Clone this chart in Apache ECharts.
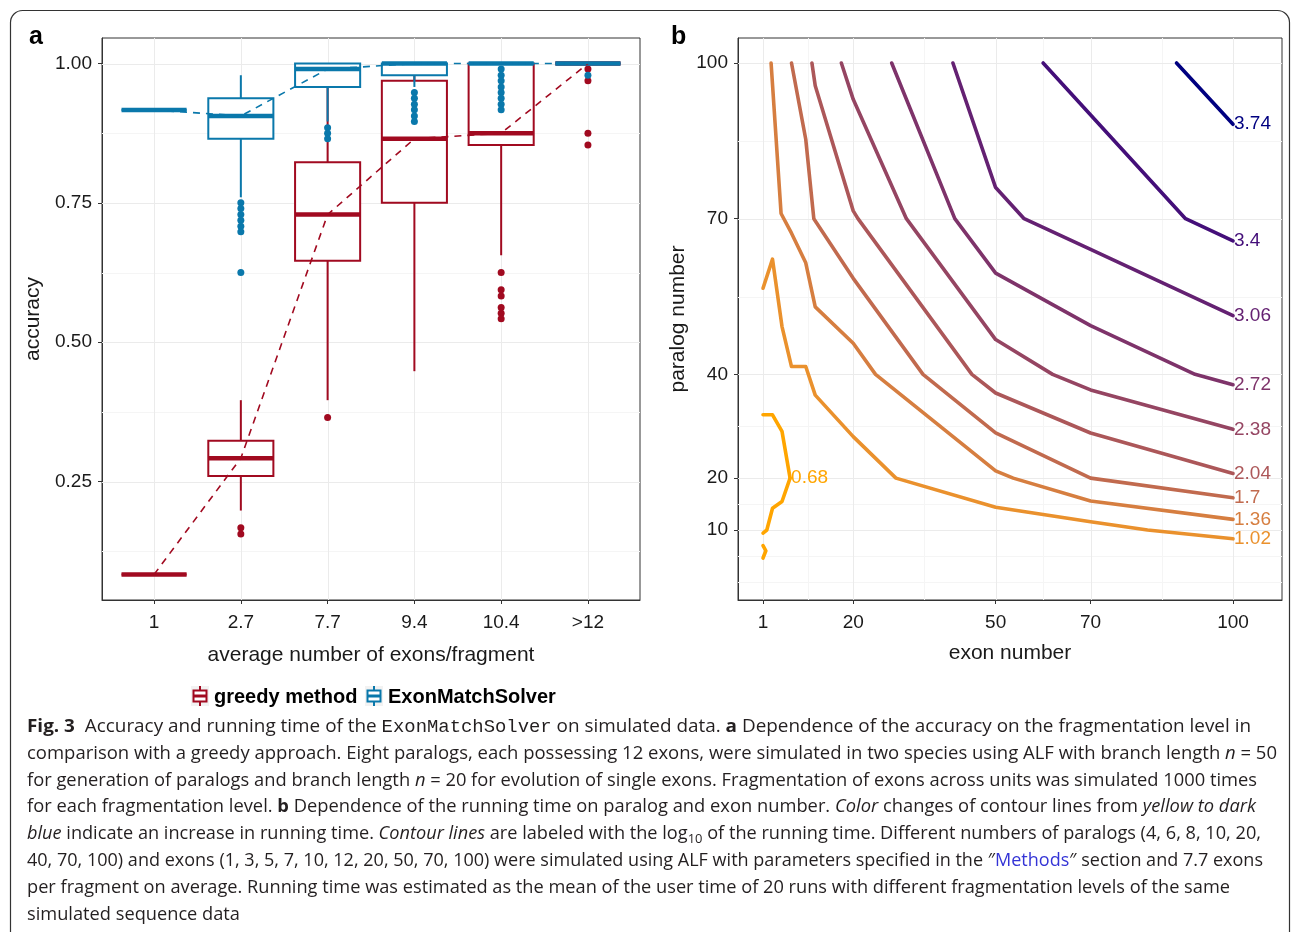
<!DOCTYPE html>
<html><head><meta charset="utf-8">
<script src="https://cdn.jsdelivr.net/npm/echarts@6/dist/echarts.min.js"></script>
<style>html,body{margin:0;padding:0;background:#fff;}#c{width:1293px;height:932px;}</style>
</head><body><div id="c"></div>
<script>
// ---------------- Panel a data ----------------
const categories = ['1', '2.7', '7.7', '9.4', '10.4', '>12'];
const accuracyTicks = [0.25, 0.5, 0.75, 1.0];
const accuracyMinorGrid = [0.125, 0.375, 0.625, 0.875];
// [lower whisker, Q1, median, Q3, upper whisker]
const greedyBox = [
  [0.0833, 0.0833, 0.0833, 0.0833, 0.0833],
  [0.198, 0.260, 0.292, 0.323, 0.396],
  [0.396, 0.646, 0.729, 0.823, 1.0],
  [0.448, 0.750, 0.865, 0.969, 1.0],
  [0.656, 0.854, 0.875, 1.0, 1.0],
  [1.0, 1.0, 1.0, 1.0, 1.0]
];
const solverBox = [
  [0.9167, 0.9167, 0.9167, 0.9167, 0.9167],
  [0.760, 0.865, 0.906, 0.9375, 0.979],
  [0.896, 0.958, 0.990, 1.0, 1.0],
  [0.958, 0.979, 1.0, 1.0, 1.0],
  [1.0, 1.0, 1.0, 1.0, 1.0],
  [1.0, 1.0, 1.0, 1.0, 1.0]
];
const greedyOutliers = [
  [], [0.167, 0.156], [0.365], [],
  [0.625, 0.594, 0.583, 0.5625, 0.552, 0.542],
  [0.990, 0.969, 0.875, 0.854]
];
const solverOutliers = [
  [], [0.750, 0.740, 0.729, 0.719, 0.708, 0.698, 0.625],
  [0.885, 0.875, 0.865],
  [0.948, 0.9375, 0.927, 0.917, 0.906, 0.896],
  [0.990, 0.979, 0.969, 0.958, 0.948, 0.9375, 0.927, 0.917],
  [0.979]
];

// ---------------- Panel b data ----------------
const exonTicks = [1, 20, 50, 70, 100];
const exonMinorGrid = [10.5, 35, 60, 85];
const paralogTicks = [10, 20, 40, 70, 100];
const paralogMinorGrid = [0, 5, 15, 30, 55, 85];
// contour lines: [exon number, paralog number]
const contour_0_68_upper = [[1, 32.2], [3, 32.2], [5, 29], [6.7, 20]];
const contour_0_68_lower = [[6.7, 20], [5, 15.5], [3, 14.2], [1.8, 10], [1, 9.4]];
const contour_0_68_tail = [[1, 7], [1.6, 6], [1, 4.6]];
const contour_1_02 = [[1, 56.6], [3, 62.2], [5, 49.2], [7, 41.5], [10, 41.5], [12, 36], [20, 28], [29, 20], [50, 14.4], [70, 11.6], [82, 10], [100, 8.3]];
const contour_1_36 = [[2.7, 100], [4.8, 71], [7, 67.2], [10, 61.5], [12, 53], [20, 46], [24.7, 40], [50, 21.4], [53.7, 20], [70, 15.6], [100, 12.05]];
const contour_1_7 = [[7, 100], [10, 85.3], [11.7, 70], [20, 58.5], [34.7, 40], [50, 28.7], [70, 20], [100, 16.2]];
const contour_2_04 = [[11.3, 100], [12, 95.6], [20, 71.5], [21, 70], [45, 40], [50, 36.4], [70, 28.7], [100, 20.9]];
const contour_2_38 = [[17.5, 100], [20, 93], [31.2, 70], [50, 46.7], [62, 40], [70, 37], [100, 29.4]];
const contour_2_72 = [[28.1, 100], [41.4, 70], [50, 59.5], [70, 49.4], [92, 40], [100, 38]];
const contour_3_06 = [[41, 100], [50, 76], [56, 70], [70, 64.1], [100, 51.3]];
const contour_3_4 = [[60, 100], [90, 70], [100, 65.7]];
const contour_3_74 = [[88.1, 100], [100, 88.2]];
const contourLevels = [0.68, 1.02, 1.36, 1.7, 2.04, 2.38, 2.72, 3.06, 3.4, 3.74];
// level, path, label shown at end of path
const contourPaths = [
  [0.68, contour_0_68_upper, true], [0.68, contour_0_68_lower, false], [0.68, contour_0_68_tail, false],
  [1.02, contour_1_02, true], [1.36, contour_1_36, true], [1.7, contour_1_7, true],
  [2.04, contour_2_04, true], [2.38, contour_2_38, true], [2.72, contour_2_72, true],
  [3.06, contour_3_06, true], [3.4, contour_3_4, true], [3.74, contour_3_74, true]
];

// ---------------- Caption ----------------
const captionLines = [
  '{b|Fig. 3}  Accuracy and running time of the {m|ExonMatchSolver} on simulated data. {b|a} Dependence of the accuracy on the fragmentation level in',
  'comparison with a greedy approach. Eight paralogs, each possessing 12 exons, were simulated in two species using ALF with branch length {i|n} = 50',
  'for generation of paralogs and branch length {i|n} = 20 for evolution of single exons. Fragmentation of exons across units was simulated 1000 times',
  'for each fragmentation level. {b|b} Dependence of the running time on paralog and exon number. {i|Color} changes of contour lines from {i|yellow to dark}',
  '{i|blue} indicate an increase in running time. {i|Contour lines} are labeled with the log{sub|10} of the running time. Different numbers of paralogs (4, 6, 8, 10, 20,',
  '40, 70, 100) and exons (1, 3, 5, 7, 10, 12, 20, 50, 70, 100) were simulated using ALF with parameters specified in the \u2033{link|Methods}\u2033 section and 7.7 exons',
  'per fragment on average. Running time was estimated as the mean of the user time of 20 runs with different fragmentation levels of the same',
  'simulated sequence data'
];
const captionLineEnds = [1251, 1277, 1257, 1256, 1261, 1263, 1230, 240];

// ---------------- styling helpers ----------------
const RED = '#A10A20', BLUE = '#0A78AB';
const AX_FONT = 'Liberation Sans';
const TXT = '#1a1a1a';

function srgbToLin(c) { c /= 255; return c <= 0.04045 ? c / 12.92 : Math.pow((c + 0.055) / 1.055, 2.4); }
function linToSrgb(c) { c = c <= 0.0031308 ? 12.92 * c : 1.055 * Math.pow(c, 1 / 2.4) - 0.055; return Math.round(Math.max(0, Math.min(1, c)) * 255); }
function rgb2lab(rgb) {
  const R = srgbToLin(rgb[0]), G = srgbToLin(rgb[1]), B = srgbToLin(rgb[2]);
  const X = (0.4124564 * R + 0.3575761 * G + 0.1804375 * B) / 0.95047;
  const Y = (0.2126729 * R + 0.7151522 * G + 0.0721750 * B);
  const Z = (0.0193339 * R + 0.1191920 * G + 0.9503041 * B) / 1.08883;
  const f = t => t > 0.008856 ? Math.cbrt(t) : (7.787 * t + 16 / 116);
  const fx = f(X), fy = f(Y), fz = f(Z);
  return [116 * fy - 16, 500 * (fx - fy), 200 * (fy - fz)];
}
function lab2rgb(lab) {
  const fy = (lab[0] + 16) / 116, fx = fy + lab[1] / 500, fz = fy - lab[2] / 200;
  const finv = t => t * t * t > 0.008856 ? t * t * t : (t - 16 / 116) / 7.787;
  const X = finv(fx) * 0.95047, Y = finv(fy), Z = finv(fz) * 1.08883;
  const R = 3.2404542 * X - 1.5371385 * Y - 0.4985314 * Z;
  const G = -0.9692660 * X + 1.8760108 * Y + 0.0415560 * Z;
  const B = 0.0556434 * X - 0.2040259 * Y + 1.0572252 * Z;
  return 'rgb(' + linToSrgb(R) + ',' + linToSrgb(G) + ',' + linToSrgb(B) + ')';
}
const LOW_LAB = rgb2lab([255, 165, 0]), HIGH_LAB = rgb2lab([0, 0, 128]);
const lvMin = Math.min(...contourLevels), lvMax = Math.max(...contourLevels);
function levelColor(lv) {
  const t = (lv - lvMin) / (lvMax - lvMin);
  return lab2rgb([0, 1, 2].map(k => LOW_LAB[k] + (HIGH_LAB[k] - LOW_LAB[k]) * t));
}

function gridSeries(xi, yi, vals, dir, color, width) {
  return {
    type: 'custom', xAxisIndex: xi, yAxisIndex: yi, silent: true, z: 1, animation: false,
    data: vals.map(v => [v, v]), encode: { x: 0, y: 1 },
    renderItem: function (params, api) {
      const cs = params.coordSys;
      if (dir === 'v') {
        const px = Math.round(api.coord([api.value(0), api.value(1)])[0]) + 0.5;
        return { type: 'line', shape: { x1: px, y1: cs.y, x2: px, y2: cs.y + cs.height }, style: { stroke: color, lineWidth: width } };
      }
      const py = Math.round(api.coord([api.value(0), api.value(1)])[1]) + 0.5;
      return { type: 'line', shape: { x1: cs.x, y1: py, x2: cs.x + cs.width, y2: py }, style: { stroke: color, lineWidth: width } };
    }
  };
}

function boxSeries(name, boxes, color, z) {
  return {
    type: 'custom', name: name, xAxisIndex: 0, yAxisIndex: 0, z: z, silent: true, animation: false,
    data: boxes.map((b, i) => [i].concat(b)), encode: { x: 0, y: [1, 2, 3, 4, 5] },
    renderItem: function (params, api) {
      const x = api.value(0);
      const c = v => api.coord([x, v]);
      const pLo = c(api.value(1)), pQ1 = c(api.value(2)), pMed = c(api.value(3)), pQ3 = c(api.value(4)), pHi = c(api.value(5));
      const hw = api.size([0.75, 0])[0] / 2;
      const cx = pMed[0];
      return {
        type: 'group', children: [
          { type: 'line', shape: { x1: cx, y1: pHi[1], x2: cx, y2: pQ3[1] }, style: { stroke: color, lineWidth: 2 } },
          { type: 'line', shape: { x1: cx, y1: pQ1[1], x2: cx, y2: pLo[1] }, style: { stroke: color, lineWidth: 2 } },
          { type: 'rect', shape: { x: cx - hw, y: pQ3[1], width: 2 * hw, height: pQ1[1] - pQ3[1] }, style: { fill: '#fff', stroke: color, lineWidth: 2 } },
          { type: 'line', shape: { x1: cx - hw, y1: pMed[1], x2: cx + hw, y2: pMed[1] }, style: { stroke: color, lineWidth: 4.5 } }
        ]
      };
    }
  };
}

function outlierSeries(outl, color, z) {
  const d = [];
  outl.forEach((arr, i) => arr.forEach(v => d.push([i, v])));
  return { type: 'scatter', xAxisIndex: 0, yAxisIndex: 0, data: d, symbolSize: 7, itemStyle: { color: color, opacity: 1 }, z: z, silent: true, animation: false };
}

function medianLine(boxes, color, z) {
  return {
    type: 'line', xAxisIndex: 0, yAxisIndex: 0, data: boxes.map((b, i) => [i, b[2]]),
    symbol: 'none', showSymbol: false, lineStyle: { color: color, width: 1.6, type: [7, 6] }, z: z, silent: true, animation: false
  };
}

const contourSeries = contourPaths.map(([lv, path, lab]) => {
  const col = levelColor(lv);
  return {
    type: 'line', xAxisIndex: 1, yAxisIndex: 1, data: path, symbol: 'none', showSymbol: false,
    lineStyle: { color: col, width: 3.6, cap: 'round', join: 'round' }, z: 3, silent: true, animation: false,
    endLabel: { show: lab, formatter: String(lv), color: col, fontSize: 19, fontFamily: AX_FONT, distance: 1 }
  };
});

function axisCommon(ticks, fmt, margin) {
  return {
    axisLine: { show: true, onZero: false, lineStyle: { color: '#333', width: 1 } },
    axisTick: { show: true, inside: false, customValues: ticks, length: 4, lineStyle: { color: '#333', width: 1 } },
    axisLabel: { customValues: ticks, formatter: fmt, fontSize: 19, color: TXT, fontFamily: AX_FONT, margin: margin },
    splitLine: { show: false }, minorSplitLine: { show: false }
  };
}
const nameStyle = { fontSize: 21, color: TXT, fontFamily: AX_FONT };

// ---------------- caption graphic ----------------
const CAP_BASE = { fontFamily: 'Open Sans', fontSize: 17.5, fontWeight: 'normal', fontStyle: 'normal', fill: '#231f20', lineHeight: 24 };
const CAP_RICH = {
  b: Object.assign({}, CAP_BASE, { fontWeight: 'bold' }),
  i: Object.assign({}, CAP_BASE, { fontStyle: 'italic' }),
  m: Object.assign({}, CAP_BASE, { fontFamily: 'Liberation Mono' }),
  sub: Object.assign({}, CAP_BASE, { fontSize: 12.5, lineHeight: 16, verticalAlign: 'bottom' }),
  link: Object.assign({}, CAP_BASE, { fill: '#3434d6' })
};
const mctx = document.createElement('canvas').getContext('2d');
function fontStr(st) { return st.fontStyle + ' ' + st.fontWeight + ' ' + st.fontSize + 'px "' + st.fontFamily + '"'; }
function measureRich(str) {
  let w = 0; const re = /\{(\w+)\|([^}]*)\}|([^{]+)/g; let m;
  while ((m = re.exec(str))) {
    const st = m[1] ? CAP_RICH[m[1]] : CAP_BASE;
    mctx.font = fontStr(st);
    w += mctx.measureText(m[1] ? m[2] : m[3]).width;
  }
  return w;
}
const CAP_X = 27, CAP_Y0 = 727, CAP_DY = 26.8;
const captionElems = captionLines.map((ln, k) => {
  const w = measureRich(ln);
  const sx = (captionLineEnds[k] - CAP_X) / w;
  return {
    type: 'text', x: CAP_X, y: CAP_Y0 + k * CAP_DY, scaleX: sx, silent: true,
    style: Object.assign({ text: ln, rich: CAP_RICH, align: 'left', verticalAlign: 'middle' }, CAP_BASE)
  };
});

function legendIcon(x, color) {
  return [
    { type: 'rect', shape: { x: x - 9, y: 686, width: 18, height: 20 }, style: { fill: '#f2f2f2', stroke: 'none' }, silent: true },
    { type: 'line', shape: { x1: x, y1: 686, x2: x, y2: 706 }, style: { stroke: color, lineWidth: 2 }, silent: true },
    { type: 'rect', shape: { x: x - 6.5, y: 690.5, width: 13, height: 11 }, style: { fill: '#fff', stroke: color, lineWidth: 2 }, silent: true },
    { type: 'line', shape: { x1: x - 6.5, y1: 696, x2: x + 6.5, y2: 696 }, style: { stroke: color, lineWidth: 3 }, silent: true }
  ];
}

const graphicElems = [
  { type: 'rect', shape: { x: 10.5, y: 10.5, width: 1279, height: 1000, r: 12 }, style: { fill: 'none', stroke: '#333', lineWidth: 1.2 }, silent: true, z: -1 },
  { type: 'text', x: 29, y: 37, style: { text: 'a', fontFamily: AX_FONT, fontWeight: 'bold', fontSize: 25, fill: '#000', verticalAlign: 'middle' }, silent: true },
  { type: 'text', x: 671, y: 37, style: { text: 'b', fontFamily: AX_FONT, fontWeight: 'bold', fontSize: 25, fill: '#000', verticalAlign: 'middle' }, silent: true },
  ...legendIcon(200, RED),
  { type: 'text', x: 214, y: 697, style: { text: 'greedy method', fontFamily: AX_FONT, fontWeight: 'bold', fontSize: 20, fill: '#000', verticalAlign: 'middle' }, silent: true },
  ...legendIcon(374, BLUE),
  { type: 'text', x: 388, y: 697, style: { text: 'ExonMatchSolver', fontFamily: AX_FONT, fontWeight: 'bold', fontSize: 20, fill: '#000', verticalAlign: 'middle' }, silent: true },
  ...captionElems
];

const option = {
  animation: false,
  backgroundColor: '#fff',
  grid: [
    { left: 102, top: 38, width: 538, height: 562, show: true, borderColor: '#333', borderWidth: 1, backgroundColor: 'rgba(0,0,0,0)', containLabel: false, outerBoundsMode: 'none' },
    { left: 738, top: 38, width: 544, height: 562, show: true, borderColor: '#333', borderWidth: 1, backgroundColor: 'rgba(0,0,0,0)', containLabel: false, outerBoundsMode: 'none' }
  ],
  xAxis: [
    Object.assign({ type: 'value', gridIndex: 0, min: -0.6, max: 5.6, name: 'average number of exons/fragment', nameLocation: 'middle', nameGap: 45, nameTextStyle: nameStyle },
      axisCommon([0, 1, 2, 3, 4, 5], v => categories[Math.round(v)], 13)),
    Object.assign({ type: 'value', gridIndex: 1, min: -4.27, max: 110.32, name: 'exon number', nameLocation: 'middle', nameGap: 43, nameTextStyle: nameStyle },
      axisCommon(exonTicks, v => String(v), 13))
  ],
  yAxis: [
    Object.assign({ type: 'value', gridIndex: 0, min: 0.0375, max: 1.0458, name: 'accuracy', nameLocation: 'middle', nameGap: 58, nameTextStyle: nameStyle },
      axisCommon(accuracyTicks, v => v.toFixed(2), 10)),
    Object.assign({ type: 'value', gridIndex: 1, min: -3.49, max: 104.82, name: 'paralog number', nameLocation: 'middle', nameGap: 49, nameTextStyle: nameStyle },
      axisCommon(paralogTicks, v => String(v), 10))
  ],
  series: [
    gridSeries(0, 0, accuracyMinorGrid, 'h', '#f5f5f5', 1),
    gridSeries(0, 0, accuracyTicks, 'h', '#ebebeb', 1),
    gridSeries(0, 0, [0, 1, 2, 3, 4, 5], 'v', '#ebebeb', 1),
    gridSeries(1, 1, paralogMinorGrid, 'h', '#f5f5f5', 1),
    gridSeries(1, 1, exonMinorGrid, 'v', '#f5f5f5', 1),
    gridSeries(1, 1, paralogTicks, 'h', '#ebebeb', 1),
    gridSeries(1, 1, exonTicks, 'v', '#ebebeb', 1),
    boxSeries('greedy method', greedyBox, RED, 2),
    outlierSeries(greedyOutliers, RED, 2),
    boxSeries('ExonMatchSolver', solverBox, BLUE, 3),
    outlierSeries(solverOutliers, BLUE, 3),
    medianLine(greedyBox, RED, 4),
    medianLine(solverBox, BLUE, 4),
    ...contourSeries
  ],
  graphic: { elements: graphicElems }
};

const chart = echarts.init(document.getElementById('c'), null, { renderer: 'canvas', width: 1293, height: 932 });
chart.setOption(option);
</script>
</body></html>
